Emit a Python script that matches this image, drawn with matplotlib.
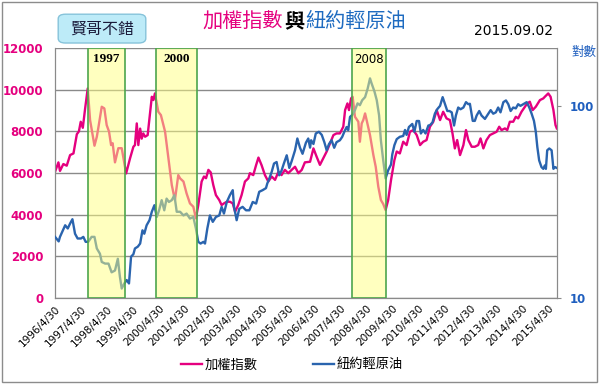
import matplotlib
matplotlib.use('Agg')
import matplotlib.pyplot as plt
from matplotlib.patches import Rectangle, FancyBboxPatch
from matplotlib.lines import Line2D

plt.rcParams['font.family'] = ['Noto Sans CJK TC', 'DejaVu Sans']

# 加權指數 (fecha en años decimales)
taiex_t = [1996.33, 1996.46, 1996.52, 1996.65, 1996.78, 1996.91, 1997.04, 1997.17, 1997.25, 1997.32,
           1997.40, 1997.49, 1997.59, 1997.68, 1997.85, 1997.94, 1998.00, 1998.13, 1998.23, 1998.32,
           1998.41, 1998.49, 1998.55, 1998.64, 1998.77, 1998.90, 1999.07, 1999.22, 1999.35, 1999.41,
           1999.48, 1999.54, 1999.61, 1999.67, 1999.73, 1999.80, 1999.90, 1999.99, 2000.06, 2000.12,
           2000.18, 2000.31, 2000.41, 2000.57, 2000.70, 2000.83, 2000.95, 2001.08, 2001.15, 2001.28,
           2001.40, 2001.53, 2001.66, 2001.76, 2001.85, 2001.98, 2002.07, 2002.15, 2002.24, 2002.33,
           2002.43, 2002.53, 2002.66, 2002.75, 2002.84, 2002.95, 2003.07, 2003.18, 2003.27, 2003.39,
           2003.52, 2003.65, 2003.78, 2003.84, 2003.97, 2004.08, 2004.17, 2004.29, 2004.42, 2004.55,
           2004.68, 2004.81, 2004.94, 2005.06, 2005.19, 2005.32, 2005.45, 2005.58, 2005.71, 2005.84,
           2005.96, 2006.16, 2006.29, 2006.41, 2006.54, 2006.67, 2006.80, 2006.93, 2007.06, 2007.18,
           2007.31, 2007.44, 2007.51, 2007.60, 2007.66, 2007.74, 2007.80, 2007.89, 2008.02, 2008.08,
           2008.15, 2008.21, 2008.28, 2008.34, 2008.47, 2008.60, 2008.69, 2008.79, 2008.89, 2008.98,
           2009.07, 2009.17, 2009.28, 2009.41, 2009.50, 2009.62, 2009.75, 2009.88, 2010.01, 2010.14,
           2010.27, 2010.40, 2010.52, 2010.65, 2010.78, 2010.91, 2011.04, 2011.17, 2011.29, 2011.42,
           2011.55, 2011.65, 2011.74, 2011.83, 2011.94, 2012.07, 2012.17, 2012.26, 2012.39, 2012.51,
           2012.64, 2012.73, 2012.84, 2012.96, 2013.09, 2013.22, 2013.35, 2013.45, 2013.54, 2013.67,
           2013.76, 2013.86, 2013.99, 2014.09, 2014.18, 2014.31, 2014.44, 2014.53, 2014.63, 2014.74,
           2014.86, 2015.02, 2015.15, 2015.21, 2015.34, 2015.43, 2015.54, 2015.62, 2015.67]
taiex = [6060, 6510, 6100, 6430, 6350, 6860, 6940, 7860, 8000, 8460,
         8170, 9100, 10060, 8540, 7310, 7740, 8180, 9180, 9100, 8300,
         7990, 7340, 7430, 6510, 7190, 7190, 5980, 6700, 7260, 7340,
         8380, 7340, 8130, 7650, 7900, 7740, 7820, 8860, 9660, 9500,
         9820, 8940, 8780, 7990, 6700, 5420, 4700, 5900, 5740, 5590,
         5020, 4540, 4380, 3820, 4450, 5590, 5830, 5750, 6150, 6030,
         5420, 4940, 4700, 4460, 4540, 4620, 4620, 4540, 4140, 4460,
         4940, 5590, 5740, 5990, 5900, 6380, 6740, 6380, 5900, 5590,
         5830, 5670, 6060, 5900, 6150, 5990, 6150, 6300, 5990, 6150,
         6510, 6540, 7180, 6790, 6390, 6710, 7030, 7420, 7820, 7900,
         7900, 8220, 9020, 9340, 9020, 9580, 9660, 8700, 8460, 7500,
         8380, 8540, 8860, 8540, 7820, 6860, 6300, 5340, 4700, 4510,
         4220, 4700, 5660, 6620, 7030, 6940, 7500, 7340, 7980, 8060,
         7820, 7340, 7500, 7580, 8220, 8460, 9020, 8540, 8940, 8620,
         8540, 7900, 7180, 7580, 6860, 7340, 8060, 7580, 7260, 7260,
         7340, 7660, 7180, 7580, 7820, 7900, 7980, 8220, 8060, 8140,
         8060, 8460, 8460, 8700, 8620, 8940, 9180, 9340, 9420, 9020,
         9180, 9500, 9580, 9660, 9820, 9660, 9020, 8300, 8140]

# 紐約輕原油 (USD)
oil_t = [1996.33, 1996.47, 1996.52, 1996.72, 1996.82, 1996.91, 1997.00, 1997.10, 1997.20, 1997.33,
         1997.42, 1997.51, 1997.61, 1997.74, 1997.85, 1997.94, 1998.06, 1998.13, 1998.26, 1998.39,
         1998.51, 1998.64, 1998.75, 1998.83, 1998.90, 1999.00, 1999.09, 1999.18, 1999.26, 1999.35,
         1999.41, 1999.52, 1999.61, 1999.70, 1999.77, 1999.86, 1999.97, 2000.06, 2000.16, 2000.25,
         2000.34, 2000.44, 2000.54, 2000.63, 2000.72, 2000.83, 2000.93, 2001.02, 2001.15, 2001.28,
         2001.40, 2001.53, 2001.66, 2001.76, 2001.85, 2001.94, 2002.05, 2002.11, 2002.20, 2002.30,
         2002.41, 2002.53, 2002.66, 2002.75, 2002.84, 2002.95, 2003.07, 2003.18, 2003.23, 2003.33,
         2003.43, 2003.56, 2003.69, 2003.82, 2003.95, 2004.08, 2004.20, 2004.33, 2004.46, 2004.51,
         2004.59, 2004.68, 2004.77, 2004.87, 2004.97, 2005.06, 2005.15, 2005.26, 2005.36, 2005.45,
         2005.58, 2005.67, 2005.77, 2005.87, 2006.00, 2006.09, 2006.16, 2006.20, 2006.29, 2006.38,
         2006.50, 2006.61, 2006.71, 2006.80, 2006.89, 2006.99, 2007.09, 2007.18, 2007.31, 2007.40,
         2007.48, 2007.57, 2007.63, 2007.70, 2007.80, 2007.89, 2007.99, 2008.08, 2008.17, 2008.28,
         2008.38, 2008.47, 2008.53, 2008.64, 2008.73, 2008.82, 2008.89, 2008.98, 2009.07, 2009.17,
         2009.28, 2009.33, 2009.41, 2009.50, 2009.62, 2009.75, 2009.82, 2009.88, 2009.97, 2010.10,
         2010.18, 2010.27, 2010.36, 2010.43, 2010.52, 2010.61, 2010.72, 2010.78, 2010.88, 2010.97,
         2011.06, 2011.17, 2011.27, 2011.36, 2011.45, 2011.53, 2011.62, 2011.71, 2011.78, 2011.87,
         2011.96, 2012.07, 2012.17, 2012.26, 2012.32, 2012.43, 2012.51, 2012.58, 2012.68, 2012.77,
         2012.90, 2013.03, 2013.12, 2013.22, 2013.32, 2013.41, 2013.50, 2013.61, 2013.71, 2013.80,
         2013.89, 2013.99, 2014.09, 2014.18, 2014.27, 2014.38, 2014.51, 2014.61, 2014.70, 2014.79,
         2014.86, 2014.92, 2014.99, 2015.08, 2015.15, 2015.21, 2015.25, 2015.30, 2015.38, 2015.47,
         2015.54, 2015.60, 2015.67]
oil = [20.8, 19.7, 20.8, 23.9, 23.0, 24.4, 25.7, 21.6, 20.4, 20.4,
       20.8, 19.6, 19.6, 20.8, 20.8, 18.1, 17.0, 15.4, 15.1, 15.1,
       13.6, 13.9, 16.0, 12.9, 11.2, 11.9, 12.4, 11.9, 16.4, 16.9,
       18.1, 18.5, 19.2, 22.5, 21.6, 23.9, 25.4, 28.1, 30.4, 26.4,
       28.6, 32.3, 28.6, 32.9, 31.6, 32.3, 34.3, 28.1, 28.1, 26.9,
       27.5, 25.9, 26.4, 23.0, 19.6, 19.2, 19.6, 19.2, 23.0, 26.9,
       24.9, 26.4, 26.9, 29.8, 27.5, 31.6, 34.3, 36.4, 29.8, 25.4,
       29.1, 29.8, 28.6, 28.6, 31.6, 31.0, 35.7, 36.4, 37.3, 39.4,
       41.9, 45.3, 50.1, 51.0, 43.5, 46.0, 50.1, 55.3, 47.5, 51.5,
       58.7, 67.6, 60.6, 56.3, 64.3, 67.6, 60.6, 66.2, 63.3, 71.8,
       73.3, 70.6, 64.7, 58.7, 63.3, 66.2, 60.5, 64.7, 66.2, 69.0,
       73.3, 77.6, 74.7, 87.6, 90.0, 95.0, 103.0, 100.8, 107.0, 111.0,
       123.0, 139.0, 131.0, 119.0, 107.0, 89.3, 66.0, 52.0, 41.9, 46.2,
       49.5, 56.0, 62.4, 67.1, 69.0, 69.7, 74.9, 70.6, 77.6, 80.5,
       73.3, 83.4, 83.4, 71.8, 74.9, 71.8, 79.0, 79.3, 82.0, 91.0,
       96.0, 100.0, 111.0, 102.0, 94.0, 94.0, 92.5, 79.0, 89.0, 98.0,
       96.0, 98.0, 104.5, 102.0, 102.5, 83.5, 83.5, 89.0, 94.0, 89.0,
       85.5, 91.0, 95.0, 91.0, 92.5, 98.0, 92.5, 104.5, 106.7, 102.0,
       94.0, 98.0, 97.0, 102.0, 100.0, 102.0, 104.5, 98.0, 91.0, 83.5,
       73.3, 61.0, 52.0, 48.0, 47.0, 49.0, 47.0, 58.7, 60.0, 58.7,
       47.0, 48.0, 47.5]

years = list(range(1996, 2016))
year_labels = [f'{y}/4/30' for y in years]

crisis_labels = ['1997', '2000', '2008']
crisis_start = [1997.59, 2000.23, 2007.79]
crisis_end = [1999.02, 2001.80, 2009.07]

PINK = '#E5007F'
BLUE = '#2A64AE'

fig = plt.figure(figsize=(6, 3.84), dpi=100)
ax = fig.add_axes([0.0917, 0.224, 0.8363, 0.651])
ax2 = ax.twinx()

x0, x1 = 1996.33, 2015.67

ax.plot(taiex_t, taiex, color=PINK, lw=1.7, zorder=3)
ax.set_xlim(x0, x1)
ax.set_ylim(0, 12000)
ax.set_yticks(range(0, 12001, 2000))
ax.grid(axis='y', color='#8a8a8a', lw=1)
ax.set_axisbelow(True)
ax.tick_params(axis='y', length=0, pad=8.5, labelcolor=PINK, labelsize=8.5)
for lab in ax.get_yticklabels():
    lab.set_fontweight('bold')
    lab.set_family('DejaVu Sans')

ax.set_xticks([y + 0.329 for y in years])
ax.set_xticklabels(year_labels, rotation=45, ha='right', rotation_mode='anchor',
                   fontsize=7.5, family='DejaVu Sans')
ax.tick_params(axis='x', length=0, pad=4)

ax2.plot(oil_t, oil, color=BLUE, lw=1.7, zorder=3)
ax2.set_yscale('log')
ax2.set_ylim(10, 200)
ax2.set_yticks([10, 100])
ax2.set_yticklabels(['10', '100'])
ax2.minorticks_off()
ax2.tick_params(axis='y', length=3, color='#8a8a8a', pad=6.5, labelcolor='#1F5FBF', labelsize=8.5)
for lab in ax2.get_yticklabels():
    lab.set_fontweight('bold')
    lab.set_family('DejaVu Sans')

for a in (ax, ax2):
    for s in a.spines.values():
        s.set_color('#8a8a8a')
    a.spines['top'].set_visible(False)

# zonas de crisis, encima de las líneas
for lab, s, e in zip(crisis_labels, crisis_start, crisis_end):
    ax2.axvspan(s, e, facecolor='#FFFF80', alpha=0.5, lw=0, zorder=5)
    ax2.axvspan(s, e, facecolor='none', edgecolor='#4DA64D', lw=1.2, zorder=6)
    if lab == '2008':
        ax2.text((s + e) / 2, 0.955, lab, transform=ax2.get_xaxis_transform(),
                 ha='center', va='center', fontsize=8.5, family='DejaVu Sans', zorder=7)
    else:
        ax2.text((s + e) / 2, 0.955, lab, transform=ax2.get_xaxis_transform(),
                 ha='center', va='center', fontsize=9.5, fontweight='bold',
                 family='Liberation Serif', zorder=7)

# títulos
fig.text(0.338, 0.943, '加權指數', color=PINK, fontsize=14.5, ha='left', va='center')
fig.text(0.474, 0.943, '與', color='black', fontsize=14.5, fontweight='bold', ha='left', va='center')
fig.text(0.508, 0.943, '紐約輕原油', color='#1E6BC0', fontsize=14.5, ha='left', va='center')
fig.text(0.79, 0.92, '2015.09.02', color='black', fontsize=10, ha='left', va='center',
         family='DejaVu Sans')
fig.text(0.952, 0.863, '對數', color='#1F5FBF', fontsize=9, ha='left', va='center')

box = FancyBboxPatch((0.097, 0.888), 0.146, 0.075, boxstyle='round,pad=0,rounding_size=0.012',
                     transform=fig.transFigure, facecolor='#BDEBF8', edgecolor='#86C3DA', lw=1)
fig.patches.append(box)
fig.text(0.17, 0.925, '賢哥不錯', color='#1a1a3a', fontsize=11.5, ha='center', va='center')

fig.patches.append(Rectangle((0.003, 0.006), 0.992, 0.988, transform=fig.transFigure,
                             facecolor='none', edgecolor='#8c8c8c', lw=1))

handles = [Line2D([], [], color=PINK, lw=1.7), Line2D([], [], color=BLUE, lw=1.7)]
fig.legend(handles, ['加權指數', '紐約輕原油'], loc='center', bbox_to_anchor=(0.487, 0.05),
           ncol=2, frameon=False, fontsize=9.5, handlelength=1.6, handletextpad=0.2,
           columnspacing=4.2)

fig.savefig('out.png', dpi=100)
